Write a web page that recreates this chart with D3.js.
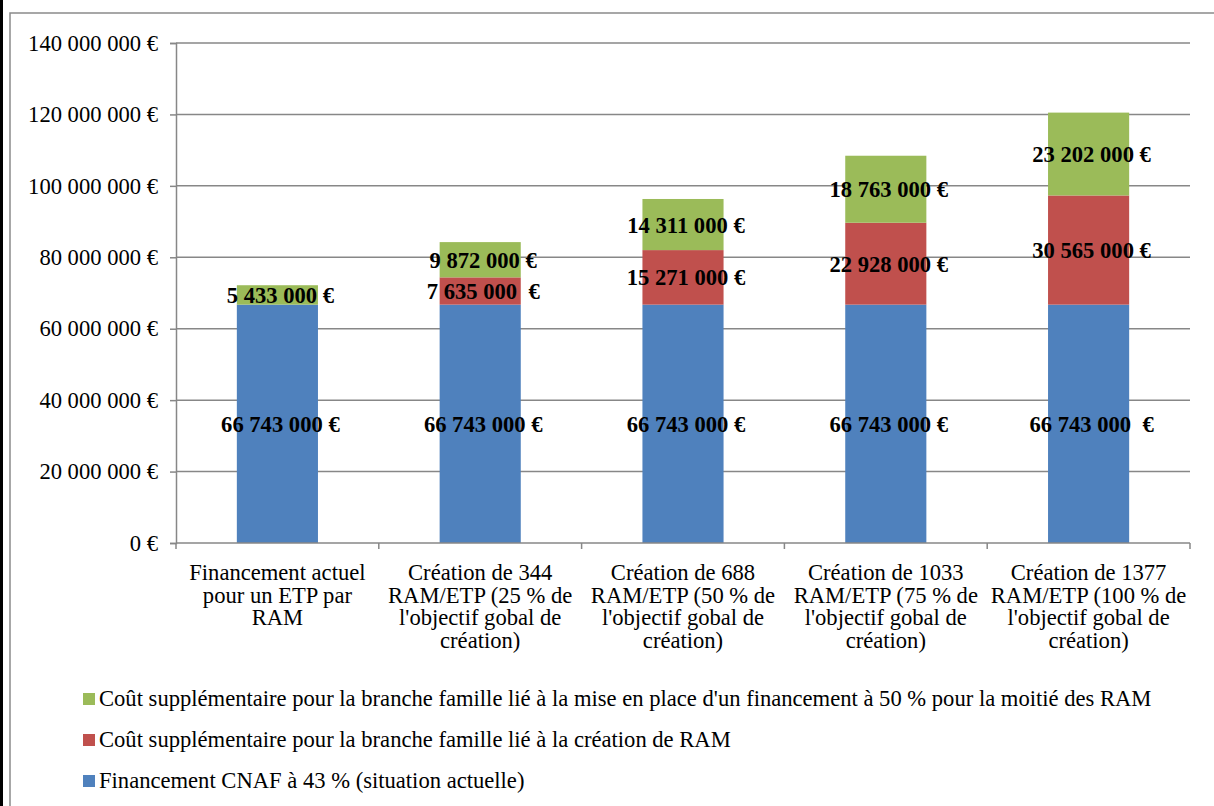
<!DOCTYPE html>
<html>
<head>
<meta charset="utf-8">
<script src="https://cdn.jsdelivr.net/npm/d3@7"></script>
<style>
  body { margin: 0; background: #fff; }
  text { font-family: "Liberation Serif", "Times New Roman", serif; }
</style>
</head>
<body>
<svg id="chart" width="1214" height="806"></svg>
<script>
// categories (lignes des étiquettes)
var categories = [
  ["Financement actuel", "pour un ETP par", "RAM"],
  ["Création de 344", "RAM/ETP (25 % de", "l'objectif gobal de", "création)"],
  ["Création de 688", "RAM/ETP (50 % de", "l'objectif gobal de", "création)"],
  ["Création de 1033", "RAM/ETP (75 % de", "l'objectif gobal de", "création)"],
  ["Création de 1377", "RAM/ETP (100 % de", "l'objectif gobal de", "création)"]
]
var cnaf = [66743000, 66743000, 66743000, 66743000, 66743000]
var creation = [0, 7635000, 15271000, 22928000, 30565000]
var moitie = [5433000, 9872000, 14311000, 18763000, 23202000]

var cnafLabels = ["66 743 000 €", "66 743 000 €", "66 743 000 €", "66 743 000 €", "66 743 000  €"]
var creationLabels = ["", "7 635 000  €", "15 271 000 €", "22 928 000 €", "30 565 000 €"]
var moitieLabels = ["5 433 000 €", "9 872 000 €", "14 311 000 €", "18 763 000 €", "23 202 000 €"]

var yTicks = [0, 20000000, 40000000, 60000000, 80000000, 100000000, 120000000, 140000000]

var legendNames = [
  "Coût supplémentaire pour la branche famille lié à la mise en place d'un financement à 50 % pour la moitié des RAM",
  "Coût supplémentaire pour la branche famille lié à la création de RAM",
  "Financement CNAF à 43 % (situation actuelle)"
]

var colors = { cnaf: "#4F81BD", creation: "#C0504D", moitie: "#9BBB59" }

var svg = d3.select("#chart")
var fs = 22.6

// cadre
svg.append("rect").attr("x", 0).attr("y", 0).attr("width", 3).attr("height", 806).attr("fill", "#000")
svg.append("rect")
  .attr("x", 10).attr("y", 13).attr("width", 1260).attr("height", 900)
  .attr("fill", "none").attr("stroke", "#8a8a8a").attr("stroke-width", 1.5)

var plotLeft = 176, plotRight = 1190, plotTop = 43, plotBottom = 543

var x = d3.scaleBand().domain(d3.range(categories.length)).range([plotLeft, plotRight]).paddingInner(0.6).paddingOuter(0.3)
var band = d3.scaleBand().domain(d3.range(categories.length)).range([plotLeft, plotRight])
var y = d3.scaleLinear().domain([0, 140000000]).range([plotBottom, plotTop])

// grille
svg.append("g").selectAll("line").data(yTicks.slice(1)).enter().append("line")
  .attr("x1", plotLeft).attr("x2", plotRight)
  .attr("y1", d => y(d)).attr("y2", d => y(d))
  .attr("stroke", "#878787").attr("stroke-width", 1.5)

// axe y
var yAxis = svg.append("g").attr("transform", "translate(" + plotLeft + ",0)")
  .call(d3.axisLeft(y).tickValues(yTicks).tickSize(6).tickPadding(12)
    .tickFormat(d => d3.format(",")(d).replace(/,/g, " ") + " €"))
yAxis.select(".domain").attr("stroke", "#878787").attr("stroke-width", 1.5)
yAxis.selectAll(".tick line").attr("stroke", "#878787").attr("stroke-width", 1.5)
yAxis.selectAll(".tick text").attr("font-size", fs).attr("fill", "#000")
  .attr("font-family", "Liberation Serif")

// empilement
var rows = categories.map((c, i) => ({ i: i, cnaf: cnaf[i], creation: creation[i], moitie: moitie[i] }))
var keys = ["cnaf", "creation", "moitie"]
var stack = d3.stack().keys(keys)(rows)
var labelSets = { cnaf: cnafLabels, creation: creationLabels, moitie: moitieLabels }

stack.forEach(function (s) {
  svg.append("g").selectAll("rect").data(s).enter().append("rect")
    .attr("x", d => x(d.data.i))
    .attr("width", x.bandwidth())
    .attr("y", d => y(d[1]))
    .attr("height", d => y(d[0]) - y(d[1]))
    .attr("fill", colors[s.key])
})

// axe x
var xAxis = svg.append("g").attr("transform", "translate(0," + plotBottom + ")")
xAxis.append("line").attr("x1", plotLeft).attr("x2", plotRight).attr("stroke", "#878787").attr("stroke-width", 1.5)
xAxis.selectAll(".tk").data(d3.range(categories.length + 1)).enter().append("line")
  .attr("x1", d => plotLeft + d * band.step()).attr("x2", d => plotLeft + d * band.step())
  .attr("y1", 0).attr("y2", 6).attr("stroke", "#878787").attr("stroke-width", 1.5)

categories.forEach(function (lines, i) {
  var t = svg.append("text")
    .attr("x", band(i) + band.bandwidth() / 2)
    .attr("y", 580)
    .attr("text-anchor", "middle")
    .attr("font-size", fs)
  lines.forEach(function (l, k) {
    t.append("tspan").attr("x", band(i) + band.bandwidth() / 2).attr("dy", k === 0 ? 0 : 22.7).text(l)
  })
})

// étiquettes de données
stack.forEach(function (s) {
  svg.append("g").selectAll("text").data(s).enter().append("text")
    .attr("x", d => x(d.data.i) + x.bandwidth() / 2 + 3)
    .attr("y", d => (y(d[0]) + y(d[1])) / 2 + 8)
    .attr("text-anchor", "middle")
    .attr("font-size", fs)
    .attr("font-weight", "bold")
    .style("white-space", "pre")
    .text(d => labelSets[s.key][d.data.i])
})

// légende
var legendKeys = ["moitie", "creation", "cnaf"]
var legend = svg.append("g")
legendNames.forEach(function (n, k) {
  var cy = 699 + k * 41
  legend.append("rect").attr("x", 83).attr("y", cy - 6).attr("width", 12).attr("height", 12)
    .attr("fill", colors[legendKeys[k]])
  legend.append("text").attr("x", 99).attr("y", cy + 7).attr("font-size", fs).text(n)
})
</script>
</body>
</html>
